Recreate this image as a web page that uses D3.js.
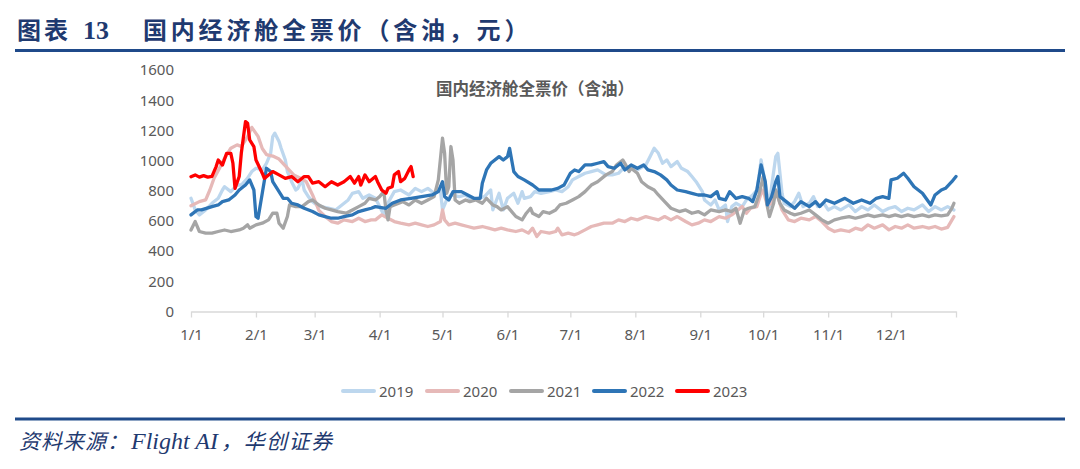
<!DOCTYPE html>
<html><head><meta charset="utf-8">
<script src="https://cdn.jsdelivr.net/npm/d3@7"></script>
<style>body{margin:0;background:#fff}svg{display:block}</style>
</head><body>
<svg id="c" width="1080" height="469"></svg>
<script>
// ---------- data (day of year offset from Jan 1, fare in CNY) ----------
const yTicks = [0,200,400,600,800,1000,1200,1400,1600];
const seriesNames = ["2019","2020","2021","2022","2023"];

const s2019 = [[0,750],[2,673],[4,640],[7,673],[10,717],[13,750],[15,805],[16,827],[19,794],[22,838],[24,838],[27,883],[29,927],[31,949],[34,938],[36,982],[38,1048],[39,1159],[40,1181],[42,1126],[43,1082],[45,1004],[46,927],[48,860],[50,805],[51,816],[53,872],[54,805],[56,761],[58,728],[60,706],[62,695],[66,684],[69,673],[72,706],[75,739],[77,783],[80,794],[82,750],[85,772],[88,750],[90,695],[92,640],[94,720],[97,794],[100,805],[104,772],[107,816],[110,794],[113,816],[116,783],[119,805],[120,673],[122,739],[124,772],[128,761],[131,772],[134,739],[137,750],[140,761],[143,805],[144,673],[147,783],[149,673],[151,750],[154,783],[156,717],[158,794],[159,750],[162,761],[164,794],[167,783],[171,794],[174,805],[177,794],[180,827],[182,872],[185,894],[188,916],[191,927],[194,938],[198,905],[201,905],[204,916],[207,960],[210,949],[213,938],[217,971],[219,1026],[221,1082],[223,1048],[225,982],[227,1004],[229,960],[232,993],[234,949],[237,927],[239,894],[241,860],[244,794],[245,739],[248,706],[250,739],[252,673],[255,706],[256,596],[258,695],[260,717],[263,695],[265,739],[268,772],[270,805],[271,894],[272,1004],[274,849],[276,695],[277,827],[279,1026],[280,1048],[282,783],[283,717],[286,695],[288,728],[290,783],[292,695],[295,717],[297,761],[299,695],[302,717],[304,673],[307,695],[310,673],[314,706],[317,662],[320,695],[323,673],[326,706],[330,662],[333,684],[336,695],[339,662],[342,684],[345,673],[349,706],[352,662],[355,695],[358,673],[361,695],[364,673]];

const s2020 = [[0,700],[4,728],[7,739],[9,805],[11,883],[14,960],[16,1015],[19,1082],[22,1104],[24,1093],[27,1159],[29,1220],[30,1200],[32,1160],[34,1080],[36,1040],[39,1030],[42,1010],[44,980],[46,950],[49,905],[52,885],[55,860],[58,772],[61,670],[64,630],[67,596],[70,585],[73,607],[77,596],[80,618],[83,596],[86,607],[88,607],[91,640],[94,618],[97,596],[100,585],[104,574],[107,585],[110,574],[113,563],[116,574],[119,596],[120,673],[121,607],[123,574],[126,585],[129,574],[132,563],[135,552],[139,563],[142,552],[145,541],[148,552],[151,541],[155,530],[158,541],[161,519],[163,552],[165,497],[167,530],[171,519],[174,530],[175,552],[177,508],[180,519],[183,508],[185,519],[188,541],[191,563],[194,574],[197,585],[201,585],[204,607],[207,596],[210,618],[213,607],[217,629],[220,618],[223,607],[226,629],[229,607],[232,629],[236,596],[239,574],[242,585],[245,607],[248,596],[252,629],[255,618],[258,640],[261,673],[263,695],[265,651],[267,684],[270,695],[272,783],[273,805],[275,700],[277,720],[279,800],[282,673],[285,607],[288,596],[291,618],[295,607],[298,629],[301,596],[304,552],[307,530],[310,541],[314,530],[317,552],[320,541],[323,574],[326,552],[330,574],[333,541],[336,563],[339,552],[342,574],[345,552],[349,563],[352,552],[355,563],[358,546],[361,557],[364,629]];

const s2021 = [[0,540],[2,596],[4,530],[7,519],[10,519],[13,530],[16,540],[19,530],[23,540],[25,552],[27,574],[28,552],[31,574],[34,585],[37,607],[39,651],[41,651],[42,585],[44,552],[46,629],[47,706],[50,695],[53,695],[56,728],[58,739],[61,706],[64,684],[67,673],[70,662],[74,651],[77,673],[80,695],[83,717],[85,750],[88,739],[90,761],[92,794],[93,673],[94,607],[95,695],[97,706],[101,728],[104,706],[107,739],[110,717],[113,739],[116,761],[118,872],[120,1148],[121,1049],[122,783],[123,827],[124,1093],[125,1004],[126,739],[128,717],[131,739],[133,728],[136,739],[139,717],[141,750],[144,706],[146,695],[148,673],[151,695],[153,662],[155,629],[158,607],[160,651],[162,684],[163,651],[166,629],[168,662],[171,651],[174,673],[176,706],[179,717],[182,739],[185,761],[188,794],[191,838],[194,860],[198,905],[201,927],[203,971],[206,1004],[207,982],[209,927],[210,949],[213,916],[215,860],[218,827],[221,805],[223,772],[226,728],[229,684],[233,662],[236,673],[239,651],[242,662],[245,640],[248,673],[252,662],[255,673],[258,662],[260,684],[262,585],[264,673],[266,684],[269,695],[271,772],[273,894],[275,695],[276,629],[278,717],[279,805],[281,717],[283,673],[286,651],[288,640],[291,651],[295,673],[298,640],[301,607],[304,585],[307,607],[310,618],[314,629],[317,618],[320,629],[323,640],[326,629],[330,640],[333,629],[336,640],[339,629],[342,640],[345,629],[349,640],[352,629],[355,640],[358,634],[361,640],[363,684],[364,717]];

const s2022 = [[0,640],[3,673],[5,673],[10,695],[13,706],[15,728],[18,739],[21,772],[23,805],[26,838],[28,872],[30,805],[31,629],[32,618],[34,783],[36,949],[38,927],[39,860],[42,794],[44,750],[46,750],[48,717],[51,706],[54,684],[58,662],[61,640],[64,629],[67,618],[70,618],[73,629],[77,640],[80,662],[83,673],[86,684],[88,695],[93,684],[96,717],[100,739],[105,750],[110,761],[115,772],[118,794],[120,860],[121,761],[123,739],[125,794],[129,794],[132,772],[135,750],[138,750],[139,849],[141,938],[143,982],[147,1026],[149,1004],[151,1026],[152,1081],[154,927],[156,894],[159,872],[163,838],[166,805],[169,805],[172,805],[175,816],[178,838],[181,916],[183,938],[185,927],[188,971],[191,971],[194,982],[197,993],[199,960],[202,949],[205,982],[207,938],[210,971],[213,949],[216,971],[218,938],[221,927],[224,905],[227,872],[229,838],[232,805],[236,794],[239,783],[242,772],[245,772],[248,761],[251,794],[252,750],[255,739],[257,794],[260,750],[263,761],[266,750],[268,728],[270,805],[272,971],[274,860],[275,706],[277,761],[279,860],[280,894],[281,761],[284,728],[288,684],[291,728],[295,695],[298,728],[300,695],[303,739],[307,717],[312,750],[316,717],[320,739],[324,717],[327,750],[330,761],[333,750],[334,872],[337,883],[340,916],[342,883],[345,827],[349,783],[353,706],[355,772],[358,805],[360,816],[363,860],[365,894]];

const s2023 = [[0,893],[2,905],[4,890],[6,900],[8,890],[10,895],[12,960],[13,1004],[15,970],[17,1048],[19,1048],[20,982],[21,816],[23,894],[24,1048],[26,1258],[27,1247],[28,1137],[30,1093],[31,1004],[34,916],[35,882],[37,905],[39,927],[42,905],[45,882],[48,894],[51,860],[54,894],[56,894],[58,850],[61,860],[64,827],[67,860],[70,838],[73,860],[76,894],[78,850],[80,894],[81,838],[83,905],[85,860],[88,894],[89,860],[91,805],[93,783],[94,816],[96,827],[97,905],[99,927],[100,860],[102,882],[104,938],[105,960],[106,894]];

const allSeries = [s2019, s2020, s2021, s2022, s2023];
const colors = ["#BDD7EE","#E6B9B8","#A5A5A5","#2E75B6","#FF0000"];

// ---------- drawing ----------
const svg = d3.select("#c");
const navy = "#1F3A70";
const start = new Date(2019,0,1), end = new Date(2020,0,1);
const x = d3.scaleTime().domain([start, end]).range([191, 956]);
const y = d3.scaleLinear().domain([0,1600]).range([311.5, 70]);
const dayDate = d => d3.timeDay.offset(start, d);

// header
const ht = svg.append("text").attr("y", 39).attr("fill", navy).attr("font-weight", "bold");
ht.append("tspan").attr("x", 17).attr("font-family", "'Noto Sans CJK SC'").attr("font-size", 24).attr("letter-spacing", 3).text("图表");
ht.append("tspan").attr("x", 83).attr("font-family", "'Liberation Serif', serif").attr("font-size", 26).text("13");
ht.append("tspan").attr("x", 143).attr("font-family", "'Noto Sans CJK SC'").attr("font-size", 24).attr("letter-spacing", 3.8).text("国内经济舱全票价（含油，元）");
svg.append("line").attr("x1", 15).attr("x2", 1065).attr("y1", 50.5).attr("y2", 50.5).attr("stroke", "#1F4A8A").attr("stroke-width", 3);

// footer
svg.append("line").attr("x1", 15).attr("x2", 1065).attr("y1", 419).attr("y2", 419).attr("stroke", "#1F4A8A").attr("stroke-width", 3);
const ft = svg.append("text").attr("y", 449).attr("fill", navy).attr("font-style", "italic");
ft.append("tspan").attr("x", 19).attr("font-family", "'Noto Sans CJK SC'").attr("font-size", 21).attr("letter-spacing", 1).text("资料来源：");
ft.append("tspan").attr("x", 131).attr("font-family", "'Liberation Serif', serif").attr("font-size", 24).text("Flight AI");
ft.append("tspan").attr("x", 221).attr("font-family", "'Noto Sans CJK SC'").attr("font-size", 21).attr("letter-spacing", 1.5).text("，华创证券");

// chart title
svg.append("text").attr("x", 535).attr("y", 95).attr("text-anchor", "middle")
  .attr("font-family", "'Noto Sans CJK SC'").attr("font-weight", "bold").attr("font-size", 16.5)
  .attr("fill", "#595959").text("国内经济舱全票价（含油）");

// y axis
const yAxis = svg.append("g").attr("transform", "translate(191,0)")
  .call(d3.axisLeft(y).tickValues(yTicks).tickSize(0).tickPadding(17).tickFormat(d3.format("d")));
yAxis.select(".domain").remove();
yAxis.selectAll("text").attr("font-family", "'Noto Sans', sans-serif").attr("font-size", 15).attr("fill", "#595959");

// x axis
const months = d3.timeMonths(start, d3.timeDay.offset(end, 1));
const fmt = d3.timeFormat("%-m/%-d");
const xAxis = svg.append("g").attr("transform", "translate(0,311.5)")
  .call(d3.axisBottom(x).tickValues(months).tickSizeInner(6).tickSizeOuter(0).tickPadding(12)
    .tickFormat((d,i) => i < 12 ? fmt(d) : ""));
xAxis.select(".domain").attr("stroke", "#D9D9D9").attr("stroke-width", 1.3);
xAxis.selectAll(".tick line").attr("stroke", "#D9D9D9").attr("stroke-width", 1.3);
xAxis.selectAll("text").attr("font-family", "'Noto Sans', sans-serif").attr("font-size", 15).attr("fill", "#595959");

// lines
const line = d3.line().x(d => x(dayDate(d[0]))).y(d => y(d[1]));
allSeries.forEach((s, i) => {
  svg.append("path").datum(s).attr("d", line).attr("fill", "none")
    .attr("stroke", colors[i]).attr("stroke-width", 3.3)
    .attr("stroke-linejoin", "round").attr("stroke-linecap", "round");
});

// legend
const legX = [341, 425, 509, 592, 675];
seriesNames.forEach((n, i) => {
  svg.append("line").attr("x1", legX[i] + 2).attr("x2", legX[i] + 33).attr("y1", 391).attr("y2", 391)
    .attr("stroke", colors[i]).attr("stroke-width", 4).attr("stroke-linecap", "round");
  svg.append("text").attr("x", legX[i] + 38).attr("y", 396.5)
    .attr("font-family", "'Noto Sans', sans-serif").attr("font-size", 15).attr("fill", "#595959").text(n);
});
</script>
</body></html>
